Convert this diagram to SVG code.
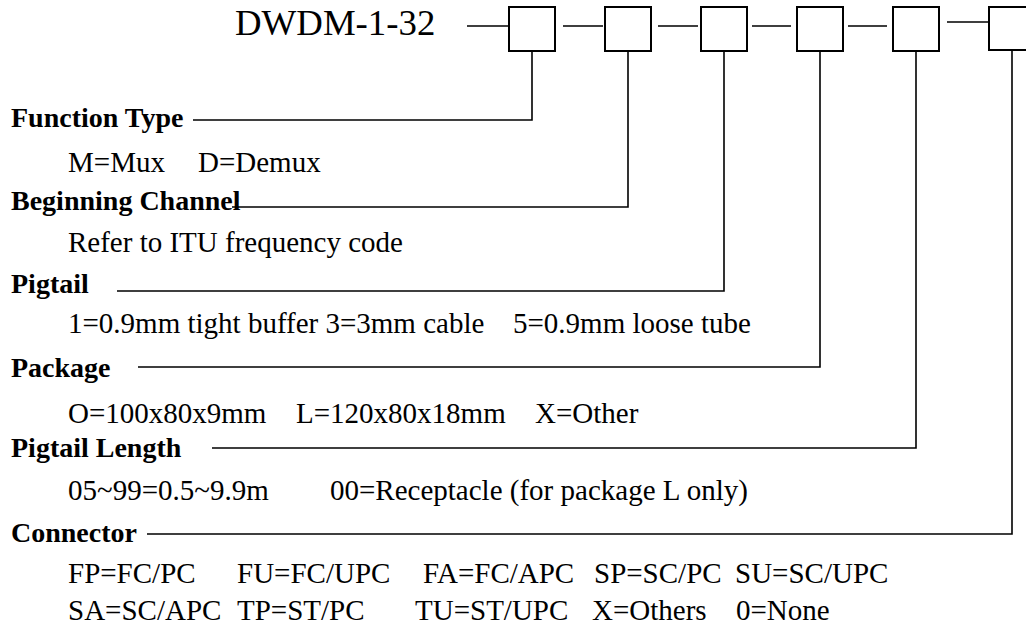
<svg xmlns="http://www.w3.org/2000/svg" width="1026" height="627" viewBox="0 0 1026 627">
<style>
.t{font-family:"Liberation Serif","Times New Roman",serif;font-size:29px;fill:#000}
.b{font-family:"Liberation Serif","Times New Roman",serif;font-size:28px;font-weight:bold;fill:#000}
.h{font-family:"Liberation Serif","Times New Roman",serif;font-size:36.8px;fill:#000}
.box{fill:#fff;stroke:#000;stroke-width:2}
.ln{fill:none;stroke:#000;stroke-width:1.6}
</style>
<rect width="1026" height="627" fill="#fff"/>
<text class="h" x="235" y="35">DWDM-1-32</text>
<g id="connectors">
<path class="ln" d="M467 26H509M563 26H603M658 26H698M752 26H791M848 26H887M947 22H989"/>
<path class="ln" d="M532 51V120H193"/>
<path class="ln" d="M628 51V207H232"/>
<path class="ln" d="M724 51V291H117"/>
<path class="ln" d="M820 51V367H138"/>
<path class="ln" d="M916 51V448H212"/>
<path class="ln" d="M1012 50V534H147"/>
</g>
<g id="box1"><rect class="box" x="509" y="7" width="46" height="44"/></g>
<g id="box2"><rect class="box" x="605" y="7" width="46" height="44"/></g>
<g id="box3"><rect class="box" x="701" y="7" width="46" height="44"/></g>
<g id="box4"><rect class="box" x="797" y="7" width="46" height="44"/></g>
<g id="box5"><rect class="box" x="893" y="7" width="46" height="44"/></g>
<g id="box6"><rect class="box" x="989" y="7" width="46" height="43"/></g>
<g id="function-type">
<text class="b" x="11" y="127">Function Type</text>
<text class="t" x="68" y="172">M=Mux</text>
<text class="t" x="198" y="172">D=Demux</text>
</g>
<g id="beginning-channel">
<text class="b" x="11" y="210">Beginning Channel</text>
<text class="t" x="68" y="252">Refer to ITU frequency code</text>
</g>
<g id="pigtail">
<text class="b" x="11" y="293">Pigtail</text>
<text class="t" x="68" y="333">1=0.9mm tight buffer 3=3mm cable</text>
<text class="t" x="513" y="333">5=0.9mm loose tube</text>
</g>
<g id="package">
<text class="b" x="11" y="377">Package</text>
<text class="t" x="68" y="423">O=100x80x9mm</text>
<text class="t" x="296" y="423">L=120x80x18mm</text>
<text class="t" x="535" y="423">X=Other</text>
</g>
<g id="pigtail-length">
<text class="b" x="11" y="457">Pigtail Length</text>
<text class="t" x="68" y="500">05~99=0.5~9.9m</text>
<text class="t" x="330" y="500">00=Receptacle (for package L only)</text>
</g>
<g id="connector">
<text class="b" x="11" y="542">Connector</text>
<text class="t" x="68" y="583">FP=FC/PC</text>
<text class="t" x="237" y="583">FU=FC/UPC</text>
<text class="t" x="423" y="583">FA=FC/APC</text>
<text class="t" x="594" y="583">SP=SC/PC</text>
<text class="t" x="735" y="583">SU=SC/UPC</text>
<text class="t" x="68" y="620">SA=SC/APC</text>
<text class="t" x="237" y="620">TP=ST/PC</text>
<text class="t" x="415" y="620">TU=ST/UPC</text>
<text class="t" x="592" y="620">X=Others</text>
<text class="t" x="736" y="620">0=None</text>
</g>
</svg>
